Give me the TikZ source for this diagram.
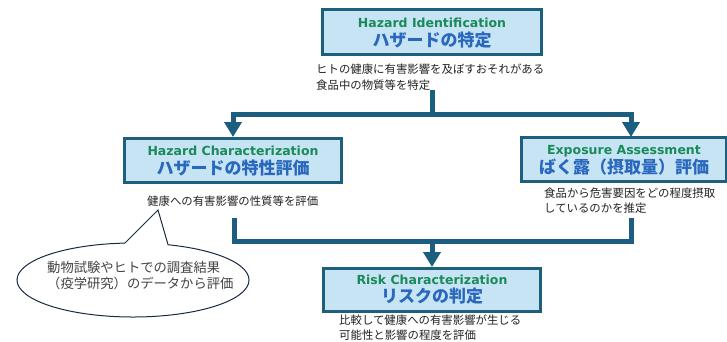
\documentclass[tikz,border=0pt]{standalone}
\usepackage{fontspec}
\usetikzlibrary{arrows.meta,calc}
\newfontfamily\jpfont{Noto Sans CJK JP}
\newfontfamily\enfont{DejaVu Sans}
\definecolor{boxfill}{HTML}{C6E4F4}
\definecolor{boxline}{HTML}{1F5F7E}
\definecolor{connline}{HTML}{1B5E80}
\definecolor{engreen}{HTML}{1A8A5A}
\definecolor{jpblue}{HTML}{2A68BE}
\definecolor{bodytext}{HTML}{222222}
\definecolor{calloutline}{HTML}{1A2A44}

\begin{document}
\begin{tikzpicture}[x=1pt,y=-1pt,
  stagebox/.style={draw=boxline, fill=boxfill, line width=3pt, inner sep=0pt},
  entitle/.style={anchor=base, inner sep=0pt, text=engreen,
    font=\enfont\bfseries\fontsize{12.5}{14}\selectfont},
  jptitle/.style={anchor=base, inner sep=0pt, text=jpblue,
    font=\jpfont\bfseries\fontsize{17}{19}\selectfont},
  % multi-line notes: the base anchor sits on the last line
  note/.style={anchor=base west, inner sep=0pt, align=left, text=bodytext,
    font=\jpfont\fontsize{11.4}{15.5}\selectfont},
  conn/.style={draw=connline, line width=5pt},
  flow/.style={conn, -{Triangle[width=17pt,length=15pt]}},
  callout/.style={draw=calloutline, fill=white, line width=1pt, line join=miter},
]
\useasboundingbox (0,0) rectangle (727,341);

% stage boxes
\node[stagebox, minimum width=219pt, minimum height=45pt] (hi) at (432,32) {};
\node[stagebox, minimum width=217pt, minimum height=44pt] (hc) at (233,160.5) {};
\node[stagebox, minimum width=205pt, minimum height=44pt] (ea) at (624,159.5) {};
\node[stagebox, minimum width=217pt, minimum height=43pt] (rc) at (432,290) {};

% box titles
\node[entitle] (hi-en) at ($(hi.center)+(0,-4.5)$) {Hazard Identification};
\node[jptitle] (hi-jp) at ($(hi.center)+(0,14.5)$) {ハザードの特定};
\node[entitle] (hc-en) at ($(hc.center)+(0,-5.5)$) {Hazard Characterization};
\node[jptitle] (hc-jp) at ($(hc.center)+(0,13.5)$) {ハザードの特性評価};
\node[entitle] (ea-en) at ($(ea.center)+(0,-5.5)$) {Exposure Assessment};
\node[jptitle] (ea-jp) at ($(ea.center)+(0,13.5)$) {ばく露（摂取量）評価};
\node[entitle] (rc-en) at ($(rc.center)+(0,-6)$) {Risk Characterization};
\node[jptitle] (rc-jp) at ($(rc.center)+(0,12.5)$) {リスクの判定};

% explanatory notes
\node[note, font=\jpfont\fontsize{11.4}{16}\selectfont] (hi-note) at (316,89)
  {ヒトの健康に有害影響を及ぼすおそれがある\\食品中の物質等を特定};
\node[note] (hc-note) at (147,205.5) {健康への有害影響の性質等を評価};
\node[note] (ea-note) at (544,212.5) {食品から危害要因をどの程度摂取\\しているのかを推定};
\node[note, font=\jpfont\fontsize{11.4}{15}\selectfont] (rc-note) at (339,339.5)
  {比較して健康への有害影響が生じる\\可能性と影響の程度を評価};

% connector junctions
\coordinate (top-out) at (432,90);
\coordinate (top-join) at (432,114);
\coordinate (ea-in) at (631,137);
\coordinate (hc-out) at (234.5,218);
\coordinate (ea-out) at (631,218);
\coordinate (low-join) at (432,241.5);

% split into the two assessments
\draw[conn] (top-out) -- (top-join);
\draw[flow] (top-join) -| (hc.north);
\draw[flow] (top-join) -| (ea-in);

% merge into risk characterization
\draw[conn] (hc-out) |- (low-join) -| (ea-out);
\draw[flow] (low-join) -- (rc.north);

% speech bubble pointing at the hazard characterization note
\coordinate (tip) at (158,210);
\coordinate (bub-c) at (133,280);
\coordinate (bub-r) at ($(bub-c)+({116*cos(-72.4)},{37*sin(-72.4)})$);
\draw[callout] (tip) -- (bub-r)
  arc[start angle=-72.4, end angle=266, x radius=116, y radius=37] -- cycle;
\node[note, font=\jpfont\fontsize{13.3}{15.5}\selectfont, text=bodytext!85!white]
  (bub-text) at (47,288) {動物試験やヒトでの調査結果\\（疫学研究）のデータから評価};
\end{tikzpicture}
\end{document}
